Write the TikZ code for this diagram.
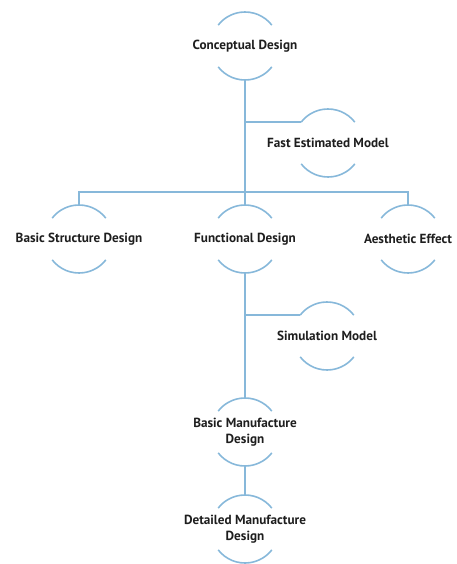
\documentclass[tikz,border=0pt]{standalone}
\usepackage{fontspec}
\setmainfont{PT Sans}
\usepackage{tikz}
\definecolor{linkblue}{RGB}{135,184,218}
\definecolor{labelgray}{RGB}{30,30,30}

\begin{document}
\begin{tikzpicture}[x=1pt, y=1pt,
  stage/.style={inner sep=0pt, align=center,
    font=\fontsize{13.2}{16}\selectfont\bfseries, text=labelgray},
  link/.style={linkblue, line width=1.6pt}]
  \useasboundingbox (0,0) rectangle (457,-564);
  \node[stage] (concept) at (245,-46) {Conceptual Design};
  \node[stage] (fast) at (328,-143) {Fast Estimated Model};
  \node[stage] (basic) at (79,-239) {Basic Structure Design};
  \node[stage] (functional) at (245,-239) {Functional Design};
  \node[stage] (aesthetic) at (408,-239) {Aesthetic Effect};
  \node[stage] (simulation) at (327,-336) {Simulation Model};
  \node[stage] (manufacture) at (245,-432) {Basic Manufacture\\Design};
  \node[stage] (detailed) at (245,-529) {Detailed Manufacture\\Design};
  \foreach \n in {concept,fast,basic,functional,aesthetic,simulation,manufacture,detailed}
    \draw[link] ([shift={(38:34)}]\n.center) arc[start angle=38, end angle=142, radius=34]
      ([shift={(218:34)}]\n.center) arc[start angle=218, end angle=322, radius=34];
  \draw[link] ([yshift=-34]concept.center) -- ([yshift=34]functional.center);
  \draw[link] ([yshift=-34]concept.center) |- ([shift={(142:34)}]fast.center);
  \draw[link] ([yshift=34]basic.center) -- ++(0,13) -| ([yshift=34]aesthetic.center);
  \draw[link] ([yshift=-34]functional.center) -- ([yshift=34]manufacture.center);
  \draw[link] ([yshift=-34]functional.center) |- ([shift={(142:34)}]simulation.center);
  \draw[link] ([yshift=-34]manufacture.center) -- ([yshift=34]detailed.center);
\end{tikzpicture}
\end{document}
